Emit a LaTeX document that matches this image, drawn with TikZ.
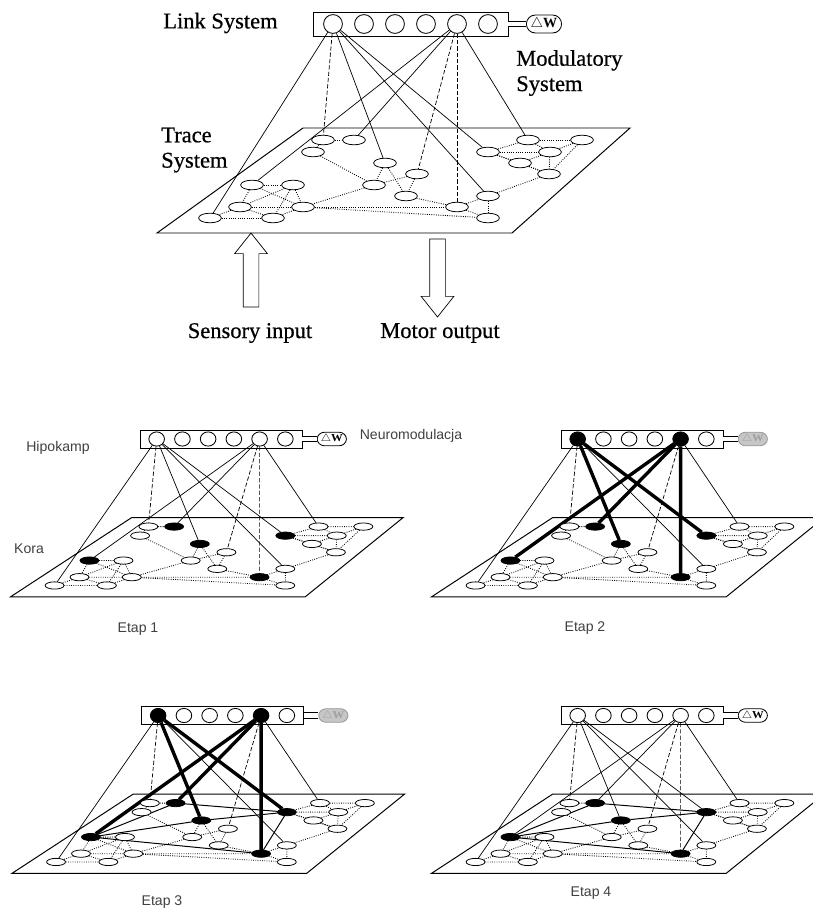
\documentclass[tikz,border=0pt]{standalone}
\usepackage{fontspec}
\setmainfont{Liberation Serif}
\newfontfamily\timesheavy[FakeBold=0.6]{Liberation Serif}
\newfontfamily\arial{Liberation Sans}
\usetikzlibrary{shapes.geometric, shapes.misc, shapes.arrows, backgrounds}

% one link system over one trace plane, in the coordinates of the big picture
\newcommand{\network}{%
  \node[linkbox] (box) at (410.5,24) {};
  \foreach \i/\x/\s in {1/333/lit, 2/364/idle, 3/395/idle, 4/426/idle, 5/457/lit, 6/488/idle}
    \node[cell, \s] (c\i) at (\x,24) {};
  \node[dw, dwstate] (dw) at (544,24) {$\triangle$\textbf{W}};
  \draw[double, double distance=3pt, line width=0.7pt] (box) -- (dw);
  \draw[plane] (303,128) -- (630,128) -- (512,233) -- (157,233) -- cycle;
  \foreach \i/\x/\y/\s in {1/323/140/idle, 2/354/140/fired, 3/313/152/idle,
      4/385/163/fired, 5/417/174/idle, 6/374/185/idle, 7/406/196/idle,
      8/252/185/fired, 9/293/185/idle, 10/240/207/idle, 11/303/207/idle,
      12/210/218/idle, 13/273/218/idle, 14/457/207/fired, 15/488/196/idle,
      16/488/218/idle, 17/528/140/idle, 18/582/140/idle, 19/488/152/fired,
      20/550/152/idle, 21/520/163/idle, 22/549/174/idle}
    \node[trace, \s] (t\i) at (\x,\y) {};
  \begin{scope}[on background layer]
    \foreach \a/\b in {1/2, 1/3, 3/6, 4/6, 4/7, 5/6, 5/7, 6/11, 8/9, 8/10,
        8/11, 9/10, 9/11, 9/13, 10/11, 10/12, 10/13, 11/13, 12/13, 11/14,
        7/14, 11/16, 14/15, 14/16, 15/16, 15/22, 17/18, 17/19, 17/20, 19/20,
        19/21, 20/21, 18/20, 20/22, 21/22, 18/22, 19/22}
      \draw[weak] (t\a) -- (t\b);
    \foreach \a/\b in {2/19, 4/8, 4/19, 8/14, 14/19, 2/8}
      \draw[learned] (t\a) -- (t\b);
    \foreach \c/\t/\s/\f in {1/12/wire/idle, 1/1/dwire/idle, 1/4/wire/strong,
        1/19/wire/strong, 1/15/wire/idle, 5/8/wire/strong, 5/2/wire/strong,
        5/5/dwire/idle, 5/14/dwire/strong, 5/17/wire/idle}
      \draw[\s, \f] (c\c) -- (t\t);
  \end{scope}
}

\begin{document}
\begin{tikzpicture}[
  x=0.025cm, y=-0.025cm,
  linkbox/.style={draw, rectangle, minimum width=4.875cm, minimum height=0.6cm,
                  line width=0.6pt},
  cell/.style={draw, circle, fill=white, minimum size=0.47cm, inner sep=0pt,
               line width=0.6pt},
  trace/.style={draw, ellipse, fill=white, minimum width=0.57cm,
                minimum height=0.24cm, inner sep=0pt, line width=0.55pt},
  dw/.style={draw, rounded rectangle, fill=white, minimum width=0.95cm,
             minimum height=0.45cm, inner sep=1pt, line width=0.6pt,
             font=\fontsize{10}{10}\selectfont},
  plane/.style={line width=0.7pt},
  weak/.style={line width=0.6pt, densely dotted},
  wire/.style={line width=0.5pt},
  dwire/.style={line width=0.5pt, dash pattern=on 3pt off 1.5pt},
  idle/.style={}, lit/.style={}, fired/.style={}, strong/.style={},
  dwstate/.style={}, learned/.style={draw=none},
  etap/.style={shift={#1}, xscale=0.83, yscale=0.755, shift={(-410.5,-24)},
               transform shape},
  toplabel/.style={font=\timesheavy\fontsize{16}{18}\selectfont, inner sep=0pt,
                   align=left},
  smalllabel/.style={font=\arial\fontsize{10}{12}\selectfont, text=black!75,
                     inner sep=0pt},
  bigarrow/.style={draw, single arrow, line width=0.5pt, inner sep=0.1875cm,
                   single arrow head extend=0.2125cm, single arrow tip angle=77,
                   minimum height=1.85cm}
]
\useasboundingbox (0,0) rectangle (812,909);

% big picture
\network
\node[toplabel, anchor=west] (linklab) at (163,23) {Link System};
\node[toplabel, anchor=west] (modlab) at (516,73) {Modulatory\\System};
\node[toplabel, anchor=west] (tracelab) at (161,150) {Trace\\System};
\node[bigarrow, rotate=90] (sens) at (251,275) {};
\node[bigarrow, rotate=-90, minimum height=1.95cm] (motor) at (437.5,273) {};
\node[toplabel] (senslab) at (250,333) {Sensory input};
\node[toplabel] (motorlab) at (440,333) {Motor output};

% the four stages
\begin{scope}[etap={(221,439)}, fired/.style={fill=black}]
  \network
\end{scope}
\begin{scope}[etap={(642,439)}, fired/.style={fill=black}, lit/.style={fill=black},
    strong/.style={line width=2.4pt, solid},
    dwstate/.style={fill=gray!45, draw=gray!80, text=gray!75}]
  \network
\end{scope}
\begin{scope}[etap={(222.5,715.5)}, fired/.style={fill=black}, lit/.style={fill=black},
    strong/.style={line width=2.4pt, solid},
    dwstate/.style={fill=gray!45, draw=gray!80, text=gray!75},
    learned/.style={draw=black, line width=0.7pt}]
  \network
\end{scope}
\begin{scope}[etap={(642,715.5)}, fired/.style={fill=black},
    learned/.style={draw=black, line width=0.7pt}]
  \network
\end{scope}

\node[smalllabel] (hipo) at (58,448) {Hipokamp};
\node[smalllabel] (neuro) at (411,436) {Neuromodulacja};
\node[smalllabel] (kora) at (29,549) {Kora};
\node[smalllabel] (e1) at (138,629) {Etap 1};
\node[smalllabel] (e2) at (585,628) {Etap 2};
\node[smalllabel] (e3) at (162,902) {Etap 3};
\node[smalllabel] (e4) at (591,893) {Etap 4};

\end{tikzpicture}
\end{document}
